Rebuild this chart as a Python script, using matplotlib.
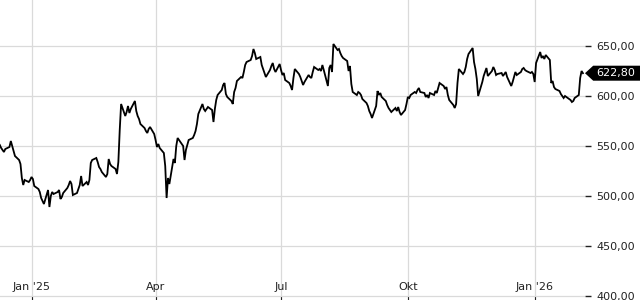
#!/usr/bin/env python3

"""
Share price chart, Dec 2024 - Feb 2026, last price marker on the right.
"""

import matplotlib

matplotlib.use("Agg")

import matplotlib.pyplot as plt
import pandas as pd
from matplotlib import ticker
from matplotlib.patches import Polygon

# Daily closes (one per business day from 2024-12-09).
prices = [
    551, 548, 546, 544, 547, 549, 555, 550, 545, 540,
    536, 532, 518, 511, 516, 514, 516, 519, 517, 510,
    507, 504, 498, 495, 492, 506, 489, 500, 504, 502,
    504, 506, 497, 499, 503, 508, 511, 515, 512, 501,
    503, 507, 511, 520, 510, 514, 511, 516, 533, 536,
    538, 534, 529, 527, 524, 519, 522, 537, 532, 530,
    527, 522, 534, 566, 592, 580, 584, 590, 583, 587,
    595, 585, 580, 577, 572, 568, 565, 563, 567, 569,
    562, 556, 549, 552, 548, 543, 530, 498, 518, 512,
    537, 533, 550, 558, 556, 550, 536, 546, 551, 556,
    558, 561, 565, 572, 582, 592, 587, 585, 587, 589,
    586, 574, 587, 596, 601, 606, 611, 613, 602, 599,
    595, 592, 604, 608, 615, 619, 618, 624, 631, 634,
    636, 640, 647, 643, 637, 639, 631, 627, 623, 619,
    626, 630, 633, 627, 624, 632, 626, 621, 623, 616,
    613, 610, 606, 618, 627, 622, 619, 615, 611, 614,
    621, 619, 618, 624, 629, 626, 627, 625, 631, 626,
    610, 628, 631, 624, 652, 646, 647, 643, 640, 638,
    635, 625, 630, 612, 604, 601, 604, 603, 601, 597,
    593, 590, 585, 582, 578, 590, 605, 601, 603, 599,
    595, 591, 588, 586, 584, 588, 585, 589, 584, 581,
    586, 592, 599, 598, 601, 604, 603, 606, 608, 604,
    603, 599, 601, 598, 603, 601, 605, 603, 608, 613,
    610, 607, 609, 601, 596, 591, 588, 592, 613, 627,
    622, 624, 629, 637, 642, 648, 634, 627, 617, 600,
    614, 620, 624, 628, 620, 625, 629, 626, 621, 622,
    623, 620, 622, 624, 619, 610, 614, 619, 624, 621,
    624, 627, 628, 626, 625, 623, 624, 622, 614, 633,
    644, 638, 640, 637, 641, 636, 613, 615, 609, 607,
    605, 602, 600, 598, 600, 597, 596, 594, 595, 598,
    601, 618, 625, 622.80,
]
dates = pd.bdate_range("2024-12-09", periods=len(prices))

month_ticks = pd.to_datetime(["2025-01-01", "2025-04-01", "2025-07-01", "2025-10-01", "2026-01-01"])
month_labels = ["Jan '25", "Apr", "Jul", "Okt", "Jan '26"]
price_ticks = [400, 450, 500, 550, 600, 650]
last_price = prices[-1]


def de_number(value, pos=None):
    return f"{value:,.2f}".replace(",", "X").replace(".", ",").replace("X", ".")


def main() -> None:
    fig = plt.figure(figsize=(6.4, 3.0), dpi=100)
    ax = fig.add_axes([0, 0, 585 / 640, 1])

    ax.plot(dates, prices, color="black", linewidth=1.3, solid_joinstyle="miter")

    ax.set_xlim(pd.Timestamp("2024-12-09 03:30"), pd.Timestamp("2026-02-06 12:00"))
    ax.set_ylim(396, 696)

    ax.set_xticks(month_ticks)
    ax.set_xticklabels(month_labels)
    ax.set_yticks(price_ticks)
    ax.yaxis.set_major_formatter(ticker.FuncFormatter(de_number))
    ax.yaxis.tick_right()

    ax.grid(True, color="#dadada", linewidth=0.9)
    ax.set_axisbelow(True)
    for spine in ax.spines.values():
        spine.set_visible(False)

    ax.tick_params(axis="x", direction="in", length=3, pad=-13, labelsize=8,
                   colors="#222222")
    ax.tick_params(axis="y", length=4, width=1, pad=4, labelsize=8, colors="#222222")

    # Last price marker: black arrow box pointing at the axis edge.
    trans = ax.get_yaxis_transform()
    marker = Polygon(
        [(1.0, last_price), (1.014, last_price + 7.5), (1.1, last_price + 7.5),
         (1.1, last_price - 7.5), (1.014, last_price - 7.5)],
        closed=True, transform=trans, facecolor="black", edgecolor="none", clip_on=False,
    )
    ax.add_patch(marker)
    ax.text(1.02, last_price, de_number(last_price), transform=trans, color="white",
            fontsize=8, va="center", ha="left", clip_on=False)

    fig.savefig("out.png", dpi=100)
    plt.close(fig)


if __name__ == "__main__":
    main()
